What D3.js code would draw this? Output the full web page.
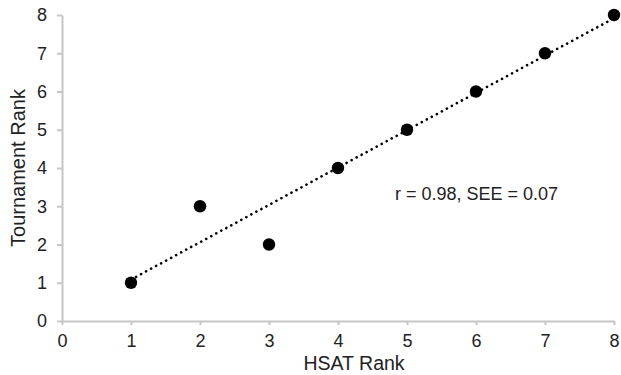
<!DOCTYPE html>
<html>
<head>
<meta charset="utf-8">
<script src="https://cdn.jsdelivr.net/npm/d3@7"></script>
<style>
  body { margin: 0; background: #fff; }
  text { font-family: "Liberation Sans", Arial, sans-serif; fill: #222; }
</style>
</head>
<body>
<svg id="chart"></svg>
<script>
const hsatRank = [1, 2, 3, 4, 5, 6, 7, 8];
const tournamentRank = [1, 3, 2, 4, 5, 6, 7, 8];
const xTicks = [0, 1, 2, 3, 4, 5, 6, 7, 8];
const yTicks = [0, 1, 2, 3, 4, 5, 6, 7, 8];
const statsLabel = "r = 0.98, SEE = 0.07";

const W = 621, H = 375;
const margin = {top: 15, right: 7, bottom: 54, left: 62};
const width = W - margin.left - margin.right;
const height = H - margin.top - margin.bottom;

const svg = d3.select("#chart").attr("width", W).attr("height", H);
const plot = svg.append("g").attr("transform", "translate(" + margin.left + "," + margin.top + ")");

const x = d3.scaleLinear().domain([0, 8]).range([0, width]);
const y = d3.scaleLinear().domain([0, 8]).range([height, 0]);

// axes
const xAxis = plot.append("g")
    .attr("transform", "translate(0," + height + ")")
    .call(d3.axisBottom(x).tickValues(xTicks).tickSize(4).tickSizeOuter(0).tickPadding(9));
const yAxis = plot.append("g")
    .call(d3.axisLeft(y).tickValues(yTicks).tickSize(5).tickSizeOuter(0).tickPadding(10));
[xAxis, yAxis].forEach(function (a) {
    a.selectAll("path, line").attr("stroke", "#c6c6c6").attr("stroke-width", 2);
    a.selectAll("text").style("font-size", "18px").attr("fill", "#222");
});

// least squares trend line
const mx = d3.mean(hsatRank), my = d3.mean(tournamentRank);
const sxy = d3.sum(hsatRank, (d, i) => (d - mx) * (tournamentRank[i] - my));
const sxx = d3.sum(hsatRank, d => (d - mx) * (d - mx));
const slope = sxy / sxx, intercept = my - slope * mx;
const xr = d3.extent(hsatRank);

plot.append("line")
    .attr("x1", x(xr[0])).attr("y1", y(intercept + slope * xr[0]))
    .attr("x2", x(xr[1])).attr("y2", y(intercept + slope * xr[1]))
    .attr("stroke", "#000")
    .attr("stroke-width", 2.6)
    .attr("stroke-linecap", "round")
    .attr("stroke-dasharray", "0.1,5.6");

// points
plot.selectAll(".pt")
    .data(hsatRank)
    .enter().append("circle")
    .attr("class", "pt")
    .attr("cx", d => x(d))
    .attr("cy", (d, i) => y(tournamentRank[i]))
    .attr("r", 6.2)
    .attr("fill", "#000");

// annotation
svg.append("text")
    .attr("x", 395).attr("y", 200)
    .style("font-size", "18px")
    .text(statsLabel);

// axis titles
svg.append("text")
    .attr("x", 354).attr("y", 370)
    .attr("text-anchor", "middle")
    .style("font-size", "19.5px")
    .text("HSAT Rank");
svg.append("text")
    .attr("transform", "translate(25,168) rotate(-90)")
    .attr("text-anchor", "middle")
    .style("font-size", "20px")
    .text("Tournament Rank");
</script>
</body>
</html>
